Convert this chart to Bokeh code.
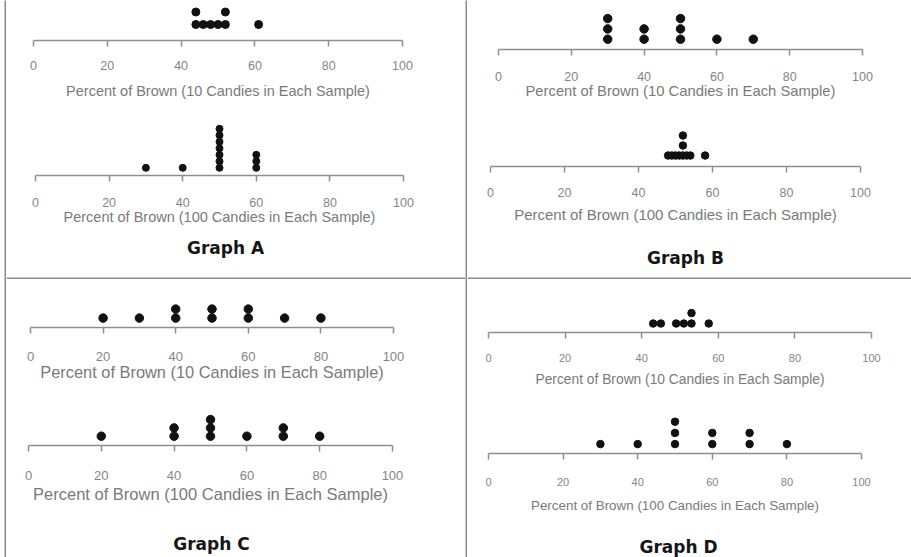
from bokeh.plotting import figure
from bokeh.models import Range1d, FixedTicker, ColumnDataSource, Label, Span, Spacer
from bokeh.layouts import column, row
from bokeh.embed import file_html
from bokeh.resources import INLINE

# ---------------- data ----------------
ticks = [0, 20, 40, 60, 80, 100]
label_10 = "Percent of Brown (10 Candies in Each Sample)"
label_100 = "Percent of Brown (100 Candies in Each Sample)"
graph_titles = ["Graph A", "Graph B", "Graph C", "Graph D"]

a_10 = [44, 44, 46, 48, 50, 52, 52, 61]
a_100 = [30, 40, 50, 50, 50, 50, 50, 50, 50, 60, 60, 60]
b_10 = [30, 30, 30, 40, 40, 50, 50, 50, 60, 70]
b_100 = [48, 49, 50, 51, 52, 52, 52, 53, 54, 58]
c_10 = [20, 30, 40, 40, 50, 50, 60, 60, 70, 80]
c_100 = [20, 40, 40, 50, 50, 50, 60, 70, 70, 80]
d_10 = [43, 45, 49, 51, 53, 53, 57.5]
d_100 = [30, 40, 50, 50, 50, 60, 60, 70, 70, 80]

# ---------------- styling / geometry ----------------
RULE = "#8c8c8c"
AXIS = "#8f8f8f"
TICK_TXT = "#858585"
LABEL_TXT = "#7a7a7a"
DOT = "#111111"
LW, RW = 459, 444          # quadrant widths
TOTAL_H = 557

geo = {
    "A10":  dict(w=LW, h=115, top=0,  fh=40, left=27, fw=369, d=16.0, s=12.5, size=8.0, f1=12.5, st1=14, f2=14.5, st2=10),
    "A100": dict(w=LW, h=115, top=0,  fh=60, left=29, fw=368, d=7.7,  s=6.5,  size=7.0, f1=12.5, st1=16, f2=14.5, st2=-1),
    "B10":  dict(w=RW, h=125, top=0,  fh=49, left=31, fw=364, d=10.3, s=10.3, size=8.5, f1=12.5, st1=16, f2=14.8, st2=-1),
    "B100": dict(w=RW, h=107, top=0,  fh=41, left=23, fw=370, d=11.0, s=10.0, size=7.5, f1=12.5, st1=15, f2=15.0, st2=6),
    "C10":  dict(w=LW, h=126, top=16, fh=32, left=24, fw=363, d=9.4,  s=9.0,  size=8.5, f1=13.0, st1=18, f2=16.4, st2=-1),
    "C100": dict(w=LW, h=110, top=0,  fh=40, left=22, fw=364, d=9.3,  s=8.3,  size=8.5, f1=13.0, st1=19, f2=16.5, st2=2),
    "D10":  dict(w=RW, h=131, top=21, fh=32, left=21, fw=383, d=9.0,  s=10.4, size=7.5, f1=11.0, st1=15, f2=13.8, st2=7),
    "D100": dict(w=RW, h=110, top=0,  fh=43, left=21, fw=373, d=9.4,  s=11.2, size=7.5, f1=11.0, st1=18, f2=13.4, st2=9),
}
tgeo = {
    "A": dict(w=LW, h=49, cx=219, cy=17, rule=True),
    "B": dict(w=RW, h=47, cx=218, cy=25, rule=True),
    "C": dict(w=LW, h=42, cx=205, cy=28, rule=False),
    "D": dict(w=RW, h=37, cx=211, cy=26, rule=False),
}


def stack_levels(vals):
    seen, lv = {}, []
    for v in vals:
        lv.append(seen.get(v, 0))
        seen[v] = seen.get(v, 0) + 1
    return lv


def dot_panel(vals, label, g):
    y0 = -g["d"] / g["s"]
    y1 = y0 + g["fh"] / g["s"]
    p = figure(width=g["w"], height=g["h"], x_range=Range1d(0, 100), y_range=Range1d(y0, y1),
               output_backend="svg", toolbar_location=None, y_axis_location=None,
               min_border_left=g["left"], min_border_right=g["w"] - g["left"] - g["fw"],
               min_border_top=g["top"], min_border_bottom=g["h"] - g["top"] - g["fh"],
               outline_line_color=None, background_fill_color="white", border_fill_color="white",
               frame_align=False)
    p.xgrid.visible = False
    p.ygrid.visible = False
    ax = p.xaxis[0]
    ax.ticker = FixedTicker(ticks=ticks, minor_ticks=[])
    ax.axis_label = label
    ax.axis_line_color = AXIS
    ax.axis_line_width = 1.5
    ax.major_tick_line_color = AXIS
    ax.major_tick_line_width = 1.5
    ax.major_tick_out = 6
    ax.major_tick_in = 0
    ax.minor_tick_line_color = None
    ax.major_label_text_font = "Liberation Sans"
    ax.major_label_text_font_size = f"{g['f1']}px"
    ax.major_label_text_color = TICK_TXT
    ax.major_label_standoff = g["st1"]
    ax.axis_label_text_font = "Liberation Sans"
    ax.axis_label_text_font_style = "normal"
    ax.axis_label_text_font_size = f"{g['f2']}px"
    ax.axis_label_text_color = LABEL_TXT
    ax.axis_label_standoff = g["st2"]
    src = ColumnDataSource(dict(x=vals, y=stack_levels(vals)))
    p.scatter("x", "y", source=src, size=g["size"], color=DOT)
    return p


def title_panel(text, g):
    p = figure(width=g["w"], height=g["h"], x_range=Range1d(0, g["w"]), y_range=Range1d(g["h"], 0),
               output_backend="svg", toolbar_location=None, x_axis_location=None, y_axis_location=None,
               min_border=0, outline_line_color=None, frame_align=False)
    p.grid.visible = False
    p.add_layout(Label(x=g["cx"], y=g["cy"], text=text, text_align="center", text_baseline="middle",
                       text_font="DejaVu Sans", text_font_style="bold", text_font_size="17px",
                       text_color="#151515"))
    if g["rule"]:
        p.add_layout(Span(location=g["h"] - 1, dimension="width", line_color=RULE, line_width=2))
    return p


def vrule(h):
    p = figure(width=2, height=h, output_backend="svg", toolbar_location=None,
               x_axis_location=None, y_axis_location=None, min_border=0, outline_line_color=None,
               background_fill_color=RULE, border_fill_color=RULE, frame_align=False)
    p.grid.visible = False
    return p


quadA = column(dot_panel(a_10, label_10, geo["A10"]), dot_panel(a_100, label_100, geo["A100"]),
               title_panel(graph_titles[0], tgeo["A"]))
quadB = column(dot_panel(b_10, label_10, geo["B10"]), dot_panel(b_100, label_100, geo["B100"]),
               title_panel(graph_titles[1], tgeo["B"]))
quadC = column(dot_panel(c_10, label_10, geo["C10"]), dot_panel(c_100, label_100, geo["C100"]),
               title_panel(graph_titles[2], tgeo["C"]))
quadD = column(dot_panel(d_10, label_10, geo["D10"]), dot_panel(d_100, label_100, geo["D100"]),
               title_panel(graph_titles[3], tgeo["D"]))

layout = row(Spacer(width=4, height=TOTAL_H), vrule(TOTAL_H), column(quadA, quadC),
             vrule(TOTAL_H), column(quadB, quadD))

open("out.html", "w").write(file_html(layout, INLINE))
